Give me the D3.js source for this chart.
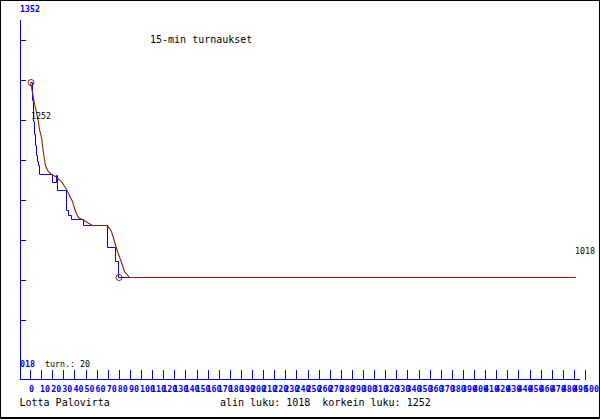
<!DOCTYPE html>
<html>
<head>
<meta charset="utf-8">
<script src="https://cdn.jsdelivr.net/npm/d3@7"></script>
<style>
    body { margin: 0; background: #fff; }
    svg { display: block; }
    text { font-family: "DejaVu Sans Mono", monospace; }
</style>
</head>
<body>
<svg id="chart"></svg>
<script>
(function () {

    // Data
    const title = "15-min turnaukset";
    const player = "Lotta Palovirta";
    const tournaments = 20;
    const lowest = 1018;
    const highest = 1252;
    const topLabel = 1352;

    // rating after each tournament (x = cumulative games)
    const blueGames = [0, 2, 3, 4, 5, 6, 7, 8, 9, 20, 24, 25, 33, 35, 37, 48, 70, 77, 80, 491];
    const blueRatings = [1252, 1231, 1205, 1190, 1177, 1165, 1157, 1153, 1142, 1132, 1140, 1123, 1099, 1093, 1088, 1081, 1054, 1037, 1018, 1018];

    // smoothed curve
    const brownGames = [0, 2.5, 4, 6, 8, 9, 10, 11, 12, 13, 14, 16, 19, 23, 28, 33, 35, 38, 41, 44, 50, 56, 70, 73, 76, 79, 82, 85, 90, 491];
    const brownRatings = [1252, 1240, 1227, 1216, 1204, 1196, 1186, 1176, 1167, 1160, 1153, 1147, 1142, 1139, 1133, 1124, 1119, 1109, 1097, 1090, 1085, 1081, 1081, 1073, 1061, 1049, 1036, 1025, 1018, 1018];

    const xTickValues = d3.range(0, 501, 10);

    // Sizes & colours
    const width = 600,
        height = 420;
    const blue = "#0000ff",
        brown = "#8b2200";

    const x = d3.scaleLinear().domain([0, 500]).range([30, 585]);
    const y = d3.scaleLinear().domain([lowest, topLabel]).range([277.5, -0.5]);

    // snap to pixel centres so the two lines sit on the same rows
    const px = (v) => Math.floor(x(v)) + 0.5;
    const py = (v) => Math.floor(y(v)) + 0.5;

    const svg = d3.select("#chart")
        .attr("width", width)
        .attr("height", height);

    svg.append("rect")
        .attr("width", width)
        .attr("height", height)
        .attr("fill", "#fff");

    // frame
    const frame = svg.append("g")
        .attr("stroke", "#000")
        .attr("shape-rendering", "crispEdges");
    frame.append("line").attr("x1", 0).attr("x2", 600).attr("y1", 0.5).attr("y2", 0.5);
    frame.append("line").attr("x1", 0.5).attr("x2", 0.5).attr("y1", 0).attr("y2", 419);
    frame.append("line").attr("x1", 599.5).attr("x2", 599.5).attr("y1", 0).attr("y2", 419);
    frame.append("line").attr("x1", 0).attr("x2", 600).attr("y1", 418).attr("y2", 418).attr("stroke-width", 2);

    // axis lines and the little y ticks
    const axes = svg.append("g")
        .attr("stroke", blue)
        .attr("shape-rendering", "crispEdges");
    axes.append("line").attr("x1", 20.5).attr("x2", 20.5).attr("y1", 20).attr("y2", 380);
    axes.append("line").attr("x1", 20).attr("x2", 580).attr("y1", 379.5).attr("y2", 379.5);
    axes.selectAll(".ytick")
        .data(d3.range(40, 321, 40))
        .enter().append("line")
        .attr("class", "ytick")
        .attr("x1", 20).attr("x2", 26)
        .attr("y1", (d) => d + 0.5).attr("y2", (d) => d + 0.5);

    // x axis (ticks point up, labels start just left of tick)
    const xAxis = d3.axisBottom(x)
        .tickValues(xTickValues)
        .tickSize(-10)
        .tickSizeOuter(0);

    const gx = svg.append("g")
        .attr("transform", "translate(0,380)")
        .call(xAxis)
        .attr("font-family", "DejaVu Sans Mono")
        .attr("font-size", 8.3);
    gx.select(".domain").remove();
    gx.selectAll("line")
        .attr("stroke", blue)
        .attr("shape-rendering", "crispEdges");
    gx.selectAll("text")
        .attr("fill", blue)
        .attr("font-weight", "bold")
        .attr("text-anchor", "start")
        .attr("x", -1.5)
        .attr("y", 12)
        .attr("dy", null);

    // lines
    const blueLine = d3.line()
        .x((d) => px(d[0]))
        .y((d) => py(d[1]))
        .curve(d3.curveStepAfter);

    const brownLine = d3.line()
        .x((d) => px(d[0]))
        .y((d) => py(d[1]));

    svg.append("path")
        .attr("d", blueLine(d3.zip(blueGames, blueRatings)))
        .attr("fill", "none")
        .attr("stroke", blue);

    svg.append("path")
        .attr("d", brownLine(d3.zip(brownGames, brownRatings)))
        .attr("fill", "none")
        .attr("stroke", brown)
        .attr("stroke-width", 1.1);

    // markers at highest and lowest point
    const maxIdx = blueRatings.indexOf(highest);
    const minIdx = blueRatings.indexOf(lowest);
    svg.selectAll(".mark")
        .data([maxIdx, minIdx])
        .enter().append("circle")
        .attr("class", "mark")
        .attr("cx", (i) => px(blueGames[i]) + 0.5)
        .attr("cy", (i) => py(blueRatings[i]))
        .attr("r", 3)
        .attr("fill", "none")
        .attr("stroke", brown);

    // texts
    const small = 8.3,
        big = 10;

    svg.append("text")
        .attr("x", 20).attr("y", 11.5)
        .attr("font-size", small).attr("font-weight", "bold")
        .attr("fill", blue)
        .text(topLabel);

    svg.append("clipPath").attr("id", "leftclip")
        .append("rect").attr("x", 20).attr("y", 340).attr("width", 40).attr("height", 40);
    svg.append("text")
        .attr("x", 15).attr("y", 367)
        .attr("clip-path", "url(#leftclip)")
        .attr("font-size", small).attr("font-weight", "bold")
        .attr("fill", blue)
        .text(lowest);

    svg.append("text")
        .attr("x", 45).attr("y", 367)
        .attr("font-size", small)
        .attr("fill", "#000")
        .text(`turn.: ${tournaments}`);

    svg.append("text")
        .attr("x", x(blueGames[maxIdx]) + 1).attr("y", y(highest) + 36.5)
        .attr("font-size", small)
        .attr("fill", "#000")
        .text(highest);

    svg.append("text")
        .attr("x", x(blueGames[blueGames.length - 1]))
        .attr("y", y(blueRatings[blueRatings.length - 1]) - 23.5)
        .attr("font-size", small)
        .attr("fill", "#000")
        .text(blueRatings[blueRatings.length - 1]);

    svg.append("text")
        .attr("x", 150).attr("y", 42.5)
        .attr("font-size", big)
        .attr("fill", "#000")
        .text(title);

    svg.append("text")
        .attr("x", 19.5).attr("y", 405.5)
        .attr("font-size", big)
        .attr("fill", "#000")
        .text(player);

    svg.append("text")
        .attr("x", 220).attr("y", 405.5)
        .attr("font-size", big)
        .attr("fill", "#000")
        .style("white-space", "pre")
        .text(`alin luku: ${lowest}  korkein luku: ${highest}`);
})();
</script>
</body>
</html>
